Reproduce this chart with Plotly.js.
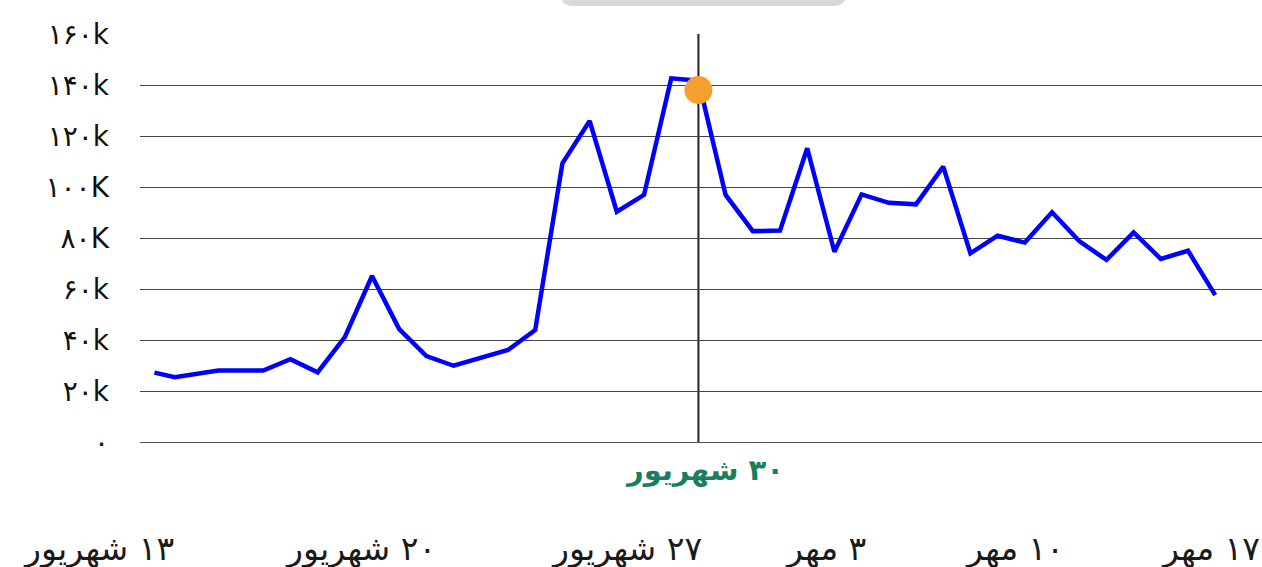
<!DOCTYPE html>
<html>
<head>
<meta charset="utf-8">
<script src="https://cdn.plot.ly/plotly-3.0.1.min.js"></script>
<style>
  html, body { margin: 0; padding: 0; background: #fff; }
  #chart { width: 1262px; height: 567px; }
</style>
</head>
<body>
<div id="chart"></div>
<script>
// day offset from 30 Shahrivar
const days = [-20, -19.25, -17.65, -16, -15, -14, -13, -12, -11, -10, -9, -8, -7, -6, -5, -4, -3, -2, -1, 0,
              1, 2, 3, 4, 5, 6, 7, 8, 9, 10, 11, 12, 13, 14, 15, 16, 17, 18, 19];
const values = [27200, 25400, 28000, 28000, 32500, 27300, 41100, 65100, 44300, 33700, 29900, 33200, 36100, 43900,
                109300, 125900, 90300, 96900, 142600, 141700,
                96900, 82700, 82900, 115200, 74600, 97100, 93800, 93200, 108000, 74000, 80900, 78200, 90100,
                78800, 71400, 82200, 71800, 75000, 57600];

const markDay = 0;
const markValue = 138000;
const markLabel = '۳۰ شهریور';

const yTicks = [0, 20000, 40000, 60000, 80000, 100000, 120000, 140000, 160000];
const yTickText = ['۰', '۲۰k', '۴۰k', '۶۰k', '۸۰K', '۱۰۰K', '۱۲۰k', '۱۴۰k', '۱۶۰k'];

const dateLabels = ['۱۳ شهریور', '۲۰ شهریور', '۲۷ شهریور', '۳ مهر', '۱۰ مهر', '۱۷ مهر'];
const dateLabelPos = [-0.0374, 0.1961, 0.4332, 0.6114, 0.779, 0.9537];

const font = 'DejaVu Sans';
const rtl = s => '\u202B' + s + '\u202C';

let data = [{
    type: 'scatter',
    mode: 'lines',
    x: days,
    y: values,
    line: { color: '#0000ff', width: 4.5 }
}, {
    type: 'scatter',
    mode: 'markers',
    x: [markDay],
    y: [markValue],
    marker: { color: '#f4a031', size: 28 }
}];

let annotations = dateLabels.map((t, i) => ({
    text: rtl(t),
    xref: 'paper', yref: 'paper',
    x: dateLabelPos[i], y: -0.26,
    xanchor: 'center', yanchor: 'middle',
    showarrow: false,
    font: { family: font, size: 33, color: '#1a1a1a' }
}));
annotations.push({
    text: '<b>' + rtl(markLabel) + '</b>',
    xref: 'x', yref: 'paper',
    x: markDay, y: -0.069, xshift: 6,
    xanchor: 'center', yanchor: 'middle',
    showarrow: false,
    font: { family: font, size: 29, color: '#1b7f5f' }
});

// rounded grey box cut off at the top
let bx0 = 0.3743, bx1 = 0.6301, byb = 1.0686, byt = 1.11, rx = 0.0125, ry = 0.034;
let boxPath = `M ${bx0} ${byt} L ${bx0} ${byb + ry} Q ${bx0} ${byb} ${bx0 + rx} ${byb} ` +
              `L ${bx1 - rx} ${byb} Q ${bx1} ${byb} ${bx1} ${byb + ry} L ${bx1} ${byt} Z`;

let layout = {
    width: 1262,
    height: 567,
    margin: { l: 140, r: 0, t: 34, b: 125 },
    paper_bgcolor: '#fff',
    plot_bgcolor: '#fff',
    showlegend: false,
    hovermode: false,
    font: { family: font },
    xaxis: {
        range: [-20.53, 20.72],
        showgrid: false,
        zeroline: false,
        showticklabels: false,
        ticks: ''
    },
    yaxis: {
        range: [0, 160000],
        tickvals: yTicks,
        ticktext: yTickText,
        tickfont: { family: font, size: 28, color: '#111' },
        ticklabelstandoff: 30,
        gridcolor: '#444',
        gridwidth: 1,
        zeroline: true,
        zerolinecolor: '#555',
        zerolinewidth: 1,
        ticks: ''
    },
    shapes: [{
        type: 'line',
        xref: 'x', yref: 'y',
        x0: markDay, x1: markDay, y0: 0, y1: 160000,
        line: { color: '#222', width: 2 },
        layer: 'below'
    }, {
        type: 'path',
        xref: 'paper', yref: 'paper',
        path: boxPath,
        fillcolor: '#d8d9d9',
        line: { width: 0 }
    }],
    annotations: annotations
};

Plotly.newPlot('chart', data, layout, { displayModeBar: false, staticPlot: true });
</script>
</body>
</html>
